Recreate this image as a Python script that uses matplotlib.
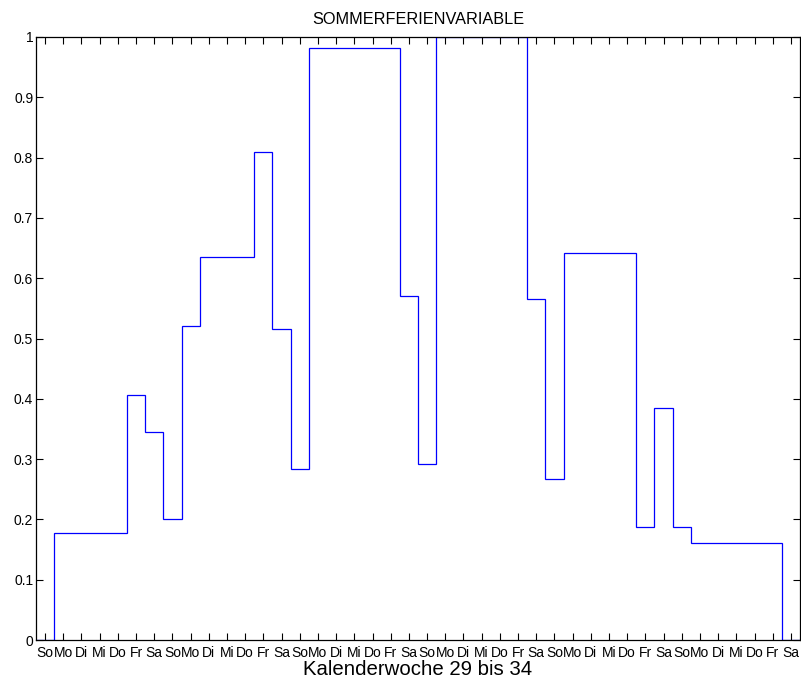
import matplotlib
matplotlib.use("Agg")
import matplotlib.pyplot as plt
import numpy as np

plt.rcParams['font.family'] = ['Liberation Sans', 'DejaVu Sans']

day_labels = ["So", "Mo", "Di", "Mi", "Do", "Fr", "Sa"] * 6
values = [0.0, 0.178, 0.178, 0.178, 0.178, 0.406, 0.345,
          0.2, 0.521, 0.635, 0.635, 0.635, 0.809, 0.516,
          0.283, 0.982, 0.982, 0.982, 0.982, 0.982, 0.571,
          0.292, 1.0, 1.0, 1.0, 1.0, 1.0, 0.566,
          0.267, 0.642, 0.642, 0.642, 0.642, 0.188, 0.385,
          0.188, 0.161, 0.161, 0.161, 0.161, 0.161, 0.0]
y_ticks = [0, 0.1, 0.2, 0.3, 0.4, 0.5, 0.6, 0.7, 0.8, 0.9, 1]
y_labels = ["0", "0.1", "0.2", "0.3", "0.4", "0.5", "0.6", "0.7", "0.8", "0.9", "1"]

n = len(values)
days = np.arange(1, n + 1)
edges = np.arange(0.5, n + 1.0, 1.0)

fig = plt.figure(figsize=(8.01, 6.84), dpi=100)
ax = fig.add_axes([36/801, 1 - 640/684, (800 - 36)/801, (640 - 37)/684])
ax.stairs(values, edges, color=(0, 0, 1), linewidth=0.9, baseline=None)

ax.set_xlim(0.5, n + 0.5)
ax.set_ylim(0, 1)
ax.set_xticks(days)
ax.set_xticklabels(day_labels, fontsize=10)
ax.set_yticks(y_ticks)
ax.set_yticklabels(y_labels, fontsize=10)
ax.tick_params(direction='in', top=True, right=True, length=5, width=0.8)
ax.tick_params(axis='x', pad=4)
ax.tick_params(axis='y', pad=2)
for s in ax.spines.values():
    s.set_linewidth(0.9)
ax.set_title("SOMMERFERIENVARIABLE", fontsize=11.7, pad=9)
ax.set_xlabel("Kalenderwoche 29 bis 34", fontsize=14.7, labelpad=0.5)

fig.savefig("out.png", dpi=100)
